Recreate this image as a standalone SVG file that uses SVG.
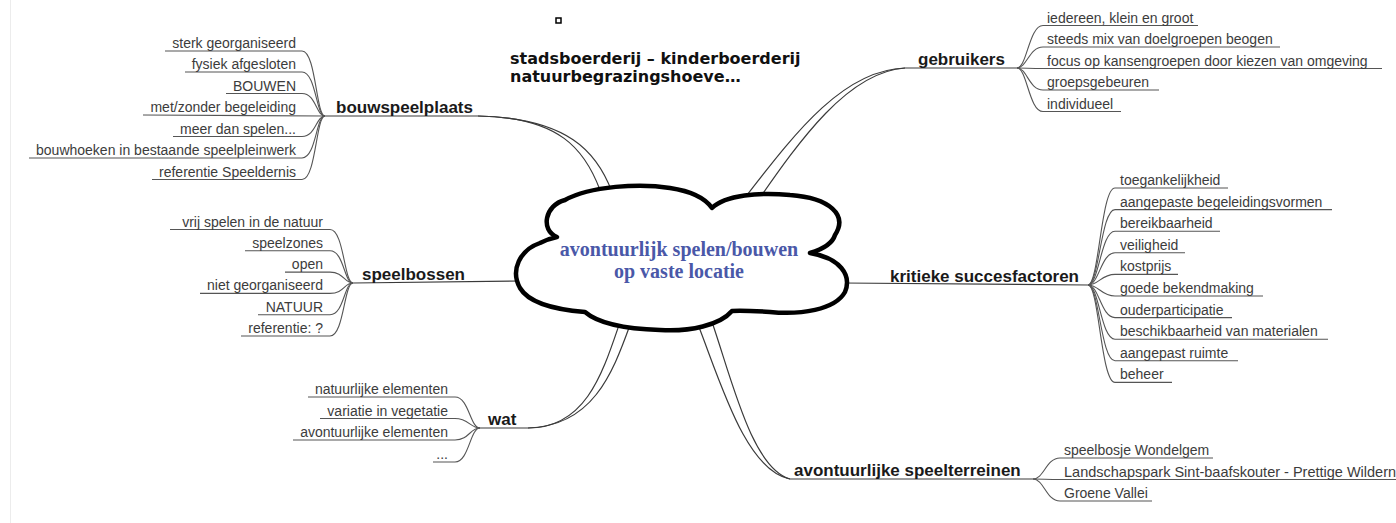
<svg xmlns="http://www.w3.org/2000/svg" width="1396" height="523" viewBox="0 0 1396 523">
<style>
.lbl{font-family:"Liberation Sans",Arial,sans-serif;font-weight:bold;font-size:17px;fill:#1a1a1a}
.sub{font-family:"Liberation Sans",Arial,sans-serif;font-size:14px;fill:#3c3c3c}
.r{text-anchor:end}
.br{fill:none;stroke:#555;stroke-width:1.1}
.mn{fill:none;stroke:#3a3a3a;stroke-width:1.2}
.top{font-family:"DejaVu Sans",Verdana,sans-serif;font-weight:bold;font-size:16px;fill:#111}
.cl{font-family:"Liberation Serif","Times New Roman",serif;font-weight:bold;font-size:20px;fill:#4a58a8;text-anchor:middle}
</style>
<rect width="1396" height="523" fill="#ffffff"/>
<line x1="10.5" y1="0" x2="10.5" y2="523" stroke="#ececec" stroke-width="1"/>

<g id="connectors">
  <!-- main branches -->
  <path class="mn" d="M325 116 L478 116 C560 117 585 150 600 190"/>
  <path class="mn" d="M478 116 C568 118 597 152 612 192"/>
  <path class="mn" d="M353 283 L522 281"/>
  <path class="mn" d="M480 428 L528 428 C585 428 602 375 619 325"/>
  <path class="mn" d="M528 428 C592 426 612 375 630 325"/>
  <path class="mn" d="M1017 68 L905 68 C840 70 790 140 740 204"/>
  <path class="mn" d="M905 68 C848 72 800 140 757 202"/>
  <path class="mn" d="M842 283 L1088 285" stroke-width="1.5"/>
  <path class="mn" d="M1033 479 L790 479 C745 470 720 380 697 322"/>
  <path class="mn" d="M790 479 C752 468 732 380 712 322"/>

  <!-- bouwspeelplaats children -->
  <path class="br" d="M165 51 L302 51 C316 51 316 116 325 116"/>
  <path class="br" d="M185 72 L302 72 C316 72 316 116 325 116"/>
  <path class="br" d="M226 93.5 L302 93.5 C316 93.5 316 116 325 116"/>
  <path class="br" d="M143 115 L325 116"/>
  <path class="br" d="M173 136.5 L302 136.5 C316 136.5 316 116 325 116"/>
  <path class="br" d="M29 158 L302 158 C316 158 316 116 325 116"/>
  <path class="br" d="M152 179.5 L302 179.5 C316 179.5 316 116 325 116"/>

  <!-- speelbossen children -->
  <path class="br" d="M170 229.5 L330 229.5 C344 229.5 344 283 353 283"/>
  <path class="br" d="M245 250.8 L330 250.8 C344 250.8 344 283 353 283"/>
  <path class="br" d="M285 272.1 L330 272.1 C344 272.1 344 283 353 283"/>
  <path class="br" d="M200 293.4 L330 293.4 C344 293.4 344 283 353 283"/>
  <path class="br" d="M258 314.7 L330 314.7 C344 314.7 344 283 353 283"/>
  <path class="br" d="M241 336 L330 336 C344 336 344 283 353 283"/>

  <!-- wat children -->
  <path class="br" d="M308 397 L455 397 C469 397 470 428 480 428"/>
  <path class="br" d="M320 418.5 L455 418.5 C469 418.5 470 428 480 428"/>
  <path class="br" d="M293 440 L455 440 C469 440 470 428 480 428"/>
  <path class="br" d="M433 462 L455 462 C469 462 470 428 480 428"/>

  <!-- gebruikers children -->
  <path class="br" d="M1017 68 C1027 68 1029 25.5 1043 25.5 L1198 25.5"/>
  <path class="br" d="M1017 68 C1027 68 1029 47 1043 47 L1280 47"/>
  <path class="br" d="M1017 68 C1027 68 1029 68.5 1043 68.5 L1382 68.5"/>
  <path class="br" d="M1017 68 C1027 68 1029 90 1043 90 L1159 90"/>
  <path class="br" d="M1017 68 C1027 68 1029 111.5 1043 111.5 L1121 111.5"/>

  <!-- kritieke succesfactoren children -->
  <path class="br" d="M1088 285 C1099 285 1101 188 1115 188 L1228 188"/>
  <path class="br" d="M1088 285 C1099 285 1101 209.6 1115 209.6 L1332 209.6"/>
  <path class="br" d="M1088 285 C1099 285 1101 231.2 1115 231.2 L1220 231.2"/>
  <path class="br" d="M1088 285 C1099 285 1101 252.8 1115 252.8 L1185 252.8"/>
  <path class="br" d="M1088 285 C1099 285 1101 274.4 1115 274.4 L1178 274.4"/>
  <path class="br" d="M1088 285 C1099 285 1101 296 1115 296 L1263 296"/>
  <path class="br" d="M1088 285 C1099 285 1101 317.6 1115 317.6 L1232 317.6"/>
  <path class="br" d="M1088 285 C1099 285 1101 339.2 1115 339.2 L1328 339.2"/>
  <path class="br" d="M1088 285 C1099 285 1101 360.8 1115 360.8 L1238 360.8"/>
  <path class="br" d="M1088 285 C1099 285 1101 382.4 1115 382.4 L1172 382.4"/>

  <!-- avontuurlijke speelterreinen children -->
  <path class="br" d="M1033 479 C1044 479 1046 458 1060 458 L1213 458"/>
  <path class="br" d="M1033 479 C1044 479 1046 479.5 1060 479.5 L1396 479.5"/>
  <path class="br" d="M1033 479 C1044 479 1046 501 1060 501 L1152 501"/>
</g>

<g id="center">
  <path d="M557 237 C540 230 545 205 565 200 C590 186 640 183 670 188 C690 191 705 198 712 208 C725 195 760 192 790 195 C830 198 848 215 835 235 C832 245 820 250 810 253 C840 258 852 275 845 292 C835 310 800 315 770 312 C755 311 740 310 732 311 C720 325 690 332 660 330 C630 329 600 325 585 312 C560 310 530 305 520 288 C510 270 520 250 540 243 C546 240 552 238 557 237 Z" fill="#ffffff" stroke="#000" stroke-width="4.5" stroke-linejoin="round"/>
  <text class="cl" x="679" y="256">avontuurlijk spelen/bouwen</text>
  <text class="cl" x="679" y="278">op vaste locatie</text>
</g>

<g id="note">
  <rect x="556" y="18" width="5" height="5" fill="#fff" stroke="#000" stroke-width="1.5"/>
  <text class="top" x="510" y="64">stadsboerderij – kinderboerderij</text>
  <text class="top" x="510" y="82">natuurbegrazingshoeve…</text>
</g>

<g id="bouwspeelplaats">
  <text class="lbl" x="336" y="113">bouwspeelplaats</text>
  <text class="sub r" x="296" y="48">sterk georganiseerd</text>
  <text class="sub r" x="296" y="69">fysiek afgesloten</text>
  <text class="sub r" x="296" y="90.5">BOUWEN</text>
  <text class="sub r" x="296" y="112">met/zonder begeleiding</text>
  <text class="sub r" x="296" y="133.5">meer dan spelen...</text>
  <text class="sub r" x="296" y="155">bouwhoeken in bestaande speelpleinwerk</text>
  <text class="sub r" x="296" y="176.5">referentie Speeldernis</text>
</g>

<g id="speelbossen">
  <text class="lbl" x="362" y="280">speelbossen</text>
  <text class="sub r" x="323" y="226.5">vrij spelen in de natuur</text>
  <text class="sub r" x="323" y="247.8">speelzones</text>
  <text class="sub r" x="323" y="269.1">open</text>
  <text class="sub r" x="323" y="290.4">niet georganiseerd</text>
  <text class="sub r" x="323" y="311.7">NATUUR</text>
  <text class="sub r" x="323" y="333">referentie: ?</text>
</g>

<g id="wat">
  <text class="lbl" x="488" y="425">wat</text>
  <text class="sub r" x="448" y="394">natuurlijke elementen</text>
  <text class="sub r" x="448" y="415.5">variatie in vegetatie</text>
  <text class="sub r" x="448" y="437">avontuurlijke elementen</text>
  <text class="sub r" x="448" y="459" fill="#888">...</text>
</g>

<g id="gebruikers">
  <text class="lbl" x="918" y="65">gebruikers</text>
  <text class="sub" x="1047" y="22.5">iedereen, klein en groot</text>
  <text class="sub" x="1047" y="44">steeds mix van doelgroepen beogen</text>
  <text class="sub" x="1047" y="65.5">focus op kansengroepen door kiezen van omgeving</text>
  <text class="sub" x="1047" y="87">groepsgebeuren</text>
  <text class="sub" x="1047" y="108.5">individueel</text>
</g>

<g id="kritieke-succesfactoren">
  <text class="lbl" x="890" y="282">kritieke succesfactoren</text>
  <text class="sub" x="1120" y="185">toegankelijkheid</text>
  <text class="sub" x="1120" y="206.6">aangepaste begeleidingsvormen</text>
  <text class="sub" x="1120" y="228.2">bereikbaarheid</text>
  <text class="sub" x="1120" y="249.8">veiligheid</text>
  <text class="sub" x="1120" y="271.4">kostprijs</text>
  <text class="sub" x="1120" y="293">goede bekendmaking</text>
  <text class="sub" x="1120" y="314.6">ouderparticipatie</text>
  <text class="sub" x="1120" y="336.2">beschikbaarheid van materialen</text>
  <text class="sub" x="1120" y="357.8">aangepast ruimte</text>
  <text class="sub" x="1120" y="379.4">beheer</text>
</g>

<g id="avontuurlijke-speelterreinen">
  <text class="lbl" x="794" y="476">avontuurlijke speelterreinen</text>
  <text class="sub" x="1064" y="455">speelbosje Wondelgem</text>
  <text class="sub" x="1064" y="476.5" style="font-size:14.5px">Landschapspark Sint-baafskouter - Prettige Wildernis</text>
  <text class="sub" x="1064" y="498">Groene Vallei</text>
</g>
</svg>
